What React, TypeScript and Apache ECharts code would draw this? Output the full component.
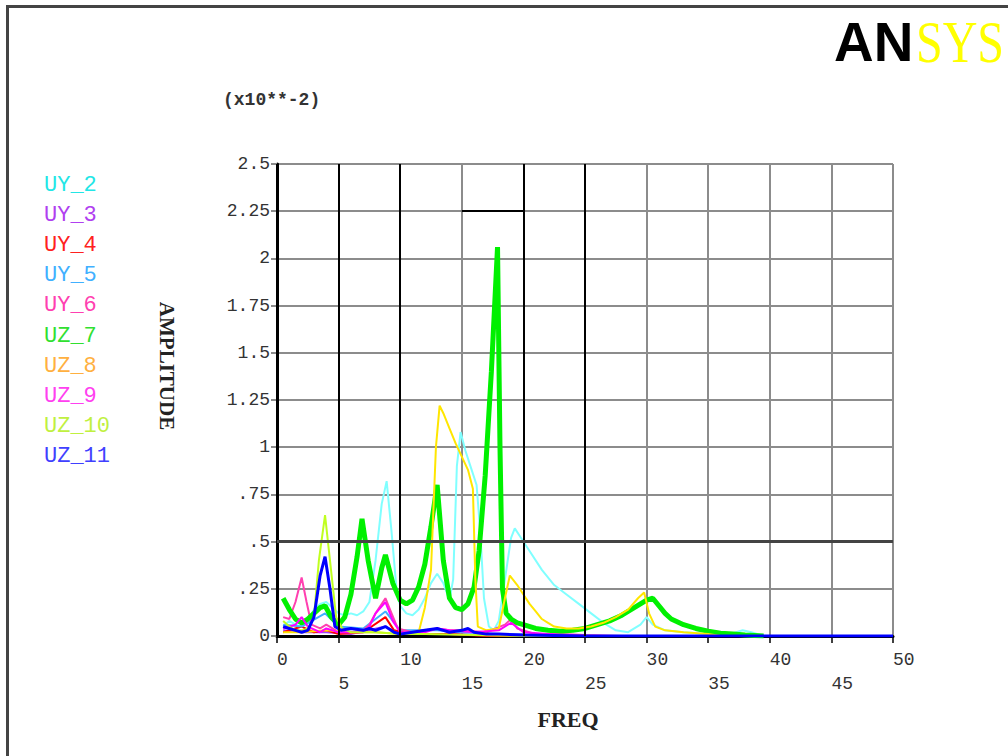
import React, { useEffect, useRef } from 'react';
import * as echarts from 'echarts';

// ---------- data ----------
const seriesNames = ['UY_2', 'UY_3', 'UY_4', 'UY_5', 'UY_6', 'UZ_7', 'UZ_8', 'UZ_9', 'UZ_10', 'UZ_11'];
const legendColors = ['#22e6e6', '#b040f0', '#ff2020', '#40b0ff', '#ff40b0', '#30e030', '#ffb040', '#ff40f0', '#c0f040', '#4040ff'];
const lineColors = ['#80ffff', '#a040ff', '#ff0000', '#40b0ff', '#ff40b0', '#00f000', '#ffe600', '#ff00ff', '#c0ff20', '#0000ff'];
const lineWidths = [2, 2, 2, 2, 2, 5, 2, 2, 2, 3];

const xTickLabels = ['0', '5', '10', '15', '20', '25', '30', '35', '40', '45', '50'];
const yTickLabels = ['0', '.25', '.5', '.75', '1', '1.25', '1.5', '1.75', '2', '2.25', '2.5'];

const uy2: [number, number][] = [
  [0.5, 0.05], [1.0, 0.08], [1.5, 0.06], [2.0, 0.05], [2.5, 0.08], [3.0, 0.14], [3.5, 0.17], [4.0, 0.18],
  [4.5, 0.15], [5.0, 0.12], [5.5, 0.11], [6.0, 0.12], [6.5, 0.11], [7.0, 0.13], [7.5, 0.18], [8.0, 0.4],
  [8.5, 0.7], [8.9, 0.82], [9.3, 0.55], [9.7, 0.25], [10.0, 0.16], [10.5, 0.12], [11.0, 0.11], [11.5, 0.14],
  [12.0, 0.2], [12.5, 0.28], [13.0, 0.33], [13.5, 0.28], [14.0, 0.19], [14.3, 0.3], [14.6, 0.9], [14.9, 1.08],
  [15.3, 0.98], [15.8, 0.88], [16.2, 0.8], [16.5, 0.55], [16.8, 0.2], [17.2, 0.05], [17.6, 0.03], [18.0, 0.08],
  [18.5, 0.3], [19.0, 0.52], [19.3, 0.57], [19.8, 0.52], [20.5, 0.45], [21.5, 0.35], [22.5, 0.27], [23.5, 0.22],
  [24.5, 0.17], [25.5, 0.12], [26.5, 0.07], [27.5, 0.03], [28.5, 0.02], [29.5, 0.06], [30.0, 0.1], [30.5, 0.06],
  [31.5, 0.03], [33.0, 0.02], [35.0, 0.01], [37.0, 0.015], [37.8, 0.03], [38.5, 0.02], [39.5, 0.0],
];
const uy3: [number, number][] = [
  [0.5, 0.03], [2.0, 0.02], [4.0, 0.02], [6.0, 0.01], [8.8, 0.05], [10.0, 0.01], [14.0, 0.01], [20.0, 0.0], [26.0, 0.0],
];
const uy4: [number, number][] = [
  [0.5, 0.02], [2.0, 0.05], [3.0, 0.02], [4.0, 0.03], [5.0, 0.01], [7.0, 0.02], [8.8, 0.1], [9.5, 0.03],
  [11.0, 0.01], [14.0, 0.01], [17.0, 0.0], [20.0, 0.0], [25.0, 0.0],
];
const uy5: [number, number][] = [
  [0.5, 0.06], [2.0, 0.05], [3.9, 0.12], [5.0, 0.05], [7.0, 0.04], [8.8, 0.13], [10.0, 0.03], [13.0, 0.03],
  [15.0, 0.02], [18.0, 0.01], [22.0, 0.005], [26.0, 0.0],
];
const uy6: [number, number][] = [
  [0.5, 0.1], [1.0, 0.09], [1.5, 0.18], [2.0, 0.31], [2.4, 0.18], [2.8, 0.06], [3.5, 0.04], [4.0, 0.06],
  [4.5, 0.04], [5.0, 0.02], [6.0, 0.02], [7.0, 0.03], [7.5, 0.06], [8.0, 0.12], [8.8, 0.2], [9.3, 0.12],
  [9.8, 0.04], [11.0, 0.02], [12.0, 0.03], [13.0, 0.04], [14.0, 0.03], [15.0, 0.03], [17.0, 0.02], [18.5, 0.06],
  [19.0, 0.09], [19.5, 0.04], [21.0, 0.01], [23.0, 0.01], [25.0, 0.005], [28.0, 0.0],
];
const uz7: [number, number][] = [
  [0.5, 0.2], [1.0, 0.14], [1.5, 0.09], [2.0, 0.07], [2.5, 0.09], [3.0, 0.12], [3.5, 0.15], [3.9, 0.16],
  [4.4, 0.1], [5.0, 0.06], [5.5, 0.1], [6.0, 0.22], [6.5, 0.42], [6.9, 0.62], [7.4, 0.4], [8.0, 0.2],
  [8.5, 0.36], [8.8, 0.43], [9.4, 0.28], [10.0, 0.19], [10.5, 0.17], [11.0, 0.19], [11.5, 0.26], [12.0, 0.38],
  [12.5, 0.58], [13.0, 0.8], [13.5, 0.4], [14.0, 0.2], [14.5, 0.15], [15.0, 0.14], [15.5, 0.17], [16.0, 0.26],
  [16.4, 0.45], [16.9, 0.85], [17.4, 1.4], [17.9, 2.06], [18.1, 1.0], [18.3, 0.25], [18.6, 0.12], [19.0, 0.09],
  [19.5, 0.07], [20.0, 0.06], [21.0, 0.04], [22.0, 0.03], [23.0, 0.025], [24.0, 0.03], [25.0, 0.04], [26.0, 0.06],
  [27.0, 0.08], [28.0, 0.11], [29.0, 0.15], [30.0, 0.19], [30.5, 0.2], [31.0, 0.16], [31.5, 0.12], [32.0, 0.09],
  [33.0, 0.06], [34.0, 0.04], [35.0, 0.025], [36.0, 0.015], [37.0, 0.01], [38.0, 0.005], [39.5, 0.0],
];
const uz8: [number, number][] = [
  [0.5, 0.02], [2.0, 0.02], [4.0, 0.03], [6.0, 0.02], [8.0, 0.02], [10.0, 0.01], [11.5, 0.02], [12.0, 0.15],
  [12.5, 0.35], [12.9, 1.0], [13.2, 1.22], [13.5, 1.18], [14.0, 1.1], [14.5, 1.02], [15.0, 0.95], [15.5, 0.88],
  [15.9, 0.78], [16.1, 0.3], [16.3, 0.05], [17.0, 0.03], [18.0, 0.04], [18.5, 0.2], [18.9, 0.32], [19.5, 0.27],
  [20.0, 0.22], [20.5, 0.17], [21.0, 0.13], [21.5, 0.09], [22.0, 0.07], [22.5, 0.05], [23.5, 0.04], [24.5, 0.04],
  [25.5, 0.05], [26.5, 0.07], [27.5, 0.1], [28.5, 0.14], [29.3, 0.2], [29.8, 0.23], [30.2, 0.12], [30.7, 0.05],
  [31.5, 0.03], [33.0, 0.02], [35.0, 0.01], [36.0, 0.0],
];
const uz9: [number, number][] = [
  [0.5, 0.04], [1.5, 0.06], [2.0, 0.1], [2.5, 0.05], [3.5, 0.02], [4.0, 0.04], [5.0, 0.02], [7.0, 0.02],
  [7.5, 0.05], [8.0, 0.12], [8.8, 0.18], [9.4, 0.08], [10.0, 0.02], [12.0, 0.02], [13.0, 0.04], [14.0, 0.03],
  [16.0, 0.02], [18.0, 0.03], [19.0, 0.07], [20.0, 0.02], [22.0, 0.01], [25.0, 0.0], [28.0, 0.0],
];
const uz10: [number, number][] = [
  [0.5, 0.08], [1.0, 0.05], [1.5, 0.03], [2.0, 0.03], [2.5, 0.04], [3.0, 0.1], [3.4, 0.4], [3.9, 0.64],
  [4.3, 0.4], [4.8, 0.1], [5.3, 0.04], [6.0, 0.02], [8.0, 0.02], [10.0, 0.01], [12.0, 0.01], [20.0, 0.0],
  [30.0, 0.0], [45.5, 0.0],
];
const uz11: [number, number][] = [
  [0.5, 0.05], [1.0, 0.04], [1.5, 0.03], [2.0, 0.02], [2.5, 0.03], [3.0, 0.1], [3.5, 0.32], [3.9, 0.42],
  [4.3, 0.25], [4.7, 0.05], [5.2, 0.03], [6.0, 0.04], [7.0, 0.03], [7.5, 0.04], [8.0, 0.03], [8.8, 0.05],
  [9.5, 0.02], [10.0, 0.01], [11.0, 0.02], [12.0, 0.03], [13.0, 0.04], [13.5, 0.03], [14.0, 0.02], [15.0, 0.03],
  [15.5, 0.04], [16.0, 0.02], [17.0, 0.01], [18.0, 0.01], [20.0, 0.005], [25.0, 0.0], [30.0, 0.0], [50.0, 0.0],
];
const seriesData = [uy2, uy3, uy4, uy5, uy6, uz7, uz8, uz9, uz10, uz11];

// ---------- chart ----------
const MONO = '"Liberation Mono", "DejaVu Sans Mono", monospace';
const SERIF = '"Liberation Serif", "Times New Roman", serif';

function buildOption() {
  const gridLines = {
    name: 'grid-dark',
    type: 'line',
    data: [[0, 0]],
    symbol: 'none',
    lineStyle: { opacity: 0 },
    silent: true,
    markLine: {
      silent: true,
      symbol: ['none', 'none'],
      label: { show: false },
      lineStyle: { color: '#000', width: 2, type: 'solid' },
      data: [
        { xAxis: 0 }, { xAxis: 5 }, { xAxis: 10 }, { xAxis: 20 }, { xAxis: 25 },
        { yAxis: 0.5, lineStyle: { color: '#444', width: 3, type: 'solid' } },
        [{ coord: [15, 2.25] }, { coord: [20, 2.25] }],
      ],
    },
  };

  const lines = seriesNames.map((name, i) => ({
    name,
    type: 'line',
    data: seriesData[i],
    symbol: 'none',
    showSymbol: false,
    clip: true,
    lineStyle: { color: lineColors[i], width: lineWidths[i] },
    itemStyle: { color: lineColors[i] },
  }));

  const legendTexts = seriesNames.map((name, i) => ({
    type: 'text',
    x: 44,
    y: 185 + i * 30.2,
    style: {
      text: name,
      fill: legendColors[i],
      fontSize: 22,
      fontFamily: MONO,
      align: 'left',
      textAlign: 'left',
      verticalAlign: 'middle',
      textVerticalAlign: 'middle',
    },
  }));

  return {
    animation: false,
    backgroundColor: '#fff',
    grid: { left: 277, top: 164, width: 616, height: 472, containLabel: false },
    xAxis: {
      type: 'value',
      min: 0,
      max: 50,
      interval: 5,
      axisLine: { show: true, lineStyle: { color: '#000', width: 3 } },
      axisTick: { show: true, length: 7, lineStyle: { color: '#000', width: 1.5 } },
      splitLine: { show: true, lineStyle: { color: '#8c8c8c', width: 2 } },
      axisLabel: {
        margin: 12,
        align: 'left',
        verticalAlign: 'top',
        lineHeight: 24,
        fontSize: 18,
        fontFamily: MONO,
        color: '#333',
        formatter: (_v: number, idx: number) => (idx % 2 === 1 ? '\n' + xTickLabels[idx] : xTickLabels[idx]),
      },
    },
    yAxis: {
      type: 'value',
      min: 0,
      max: 2.5,
      interval: 0.25,
      axisLine: { show: true, lineStyle: { color: '#000', width: 3 } },
      axisTick: { show: true, length: 6, lineStyle: { color: '#8c8c8c', width: 2 } },
      splitLine: { show: true, lineStyle: { color: '#8c8c8c', width: 2 } },
      axisLabel: {
        margin: 7,
        fontSize: 18,
        fontFamily: MONO,
        color: '#333',
        formatter: (_v: number, idx: number) => yTickLabels[idx],
      },
    },
    series: [gridLines, ...lines],
    graphic: [
      {
        type: 'rect',
        z: -10,
        shape: { x: 7.5, y: 6.5, width: 1100, height: 800 },
        style: { fill: 'none', stroke: '#444', lineWidth: 3 },
      },
      {
        type: 'text',
        x: 834,
        y: 42,
        scaleX: 0.98,
        style: {
          text: 'AN',
          fill: '#000',
          fontSize: 56,
          fontWeight: 'bold',
          fontFamily: '"Liberation Sans", Arial, sans-serif',
          align: 'left', textAlign: 'left', verticalAlign: 'middle', textVerticalAlign: 'middle',
        },
      },
      {
        type: 'text',
        x: 916,
        y: 42,
        scaleX: 0.8,
        style: {
          text: 'SYS',
          fill: '#ffff00',
          fontSize: 60,
          fontFamily: SERIF,
          align: 'left', textAlign: 'left', verticalAlign: 'middle', textVerticalAlign: 'middle',
        },
      },
      {
        type: 'text',
        x: 223,
        y: 100,
        style: {
          text: '(x10**-2)',
          fill: '#333',
          fontSize: 18,
          fontWeight: 'bold',
          fontFamily: MONO,
          align: 'left', textAlign: 'left', verticalAlign: 'middle', textVerticalAlign: 'middle',
        },
      },
      {
        type: 'text',
        x: 167,
        y: 366,
        rotation: -Math.PI / 2,
        style: {
          text: 'AMPLITUDE',
          fill: '#222',
          fontSize: 21,
          fontWeight: 'bold',
          fontFamily: SERIF,
          align: 'center', textAlign: 'center', verticalAlign: 'middle', textVerticalAlign: 'middle',
        },
      },
      {
        type: 'text',
        x: 568,
        y: 719,
        style: {
          text: 'FREQ',
          fill: '#222',
          fontSize: 22,
          fontWeight: 'bold',
          fontFamily: SERIF,
          align: 'center', textAlign: 'center', verticalAlign: 'middle', textVerticalAlign: 'middle',
        },
      },
      ...legendTexts,
    ],
  };
}

export default function App() {
  const ref = useRef<HTMLDivElement>(null);
  useEffect(() => {
    if (!ref.current) return;
    const chart = echarts.init(ref.current, null, { renderer: 'svg' });
    chart.setOption(buildOption() as any);
    return () => chart.dispose();
  }, []);
  return (
    <div
      ref={ref}
      style={{ position: 'absolute', left: 0, top: 0, width: 1008, height: 756, background: '#fff', overflow: 'hidden' }}
    />
  );
}
